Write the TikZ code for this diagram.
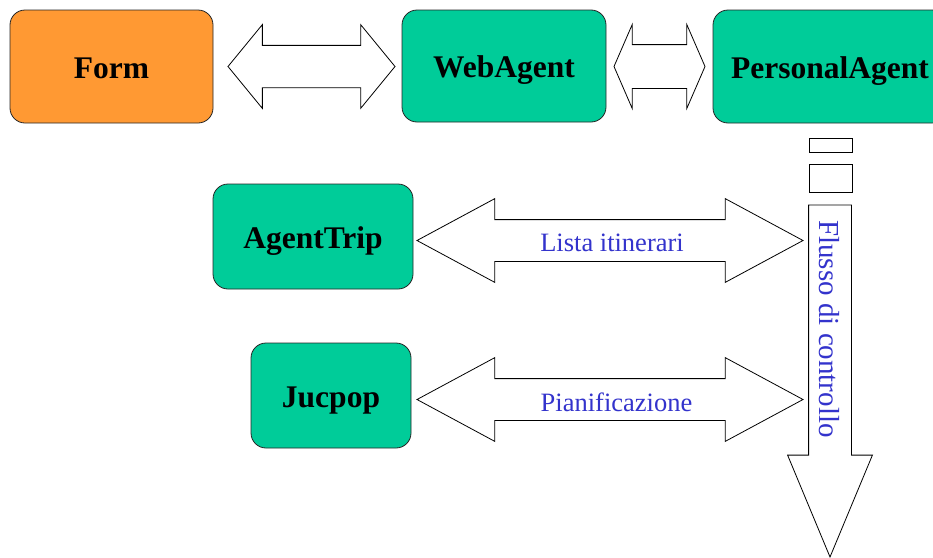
\documentclass[tikz,border=0pt]{standalone}
\usepackage{fontspec}
\setmainfont{Liberation Serif}
\usetikzlibrary{shapes.arrows}
\definecolor{formorange}{RGB}{255,153,51}
\definecolor{agentgreen}{RGB}{0,204,153}
\definecolor{flowblue}{RGB}{51,51,204}
\tikzset{
  agent/.style={draw=black!85, line width=0.8pt, rounded corners=15pt, fill=agentgreen,
    inner sep=0pt, text height=23pt, text depth=0pt,
    font=\fontsize{31.5}{36}\selectfont\bfseries},
  biarrow/.style={draw, line width=0.8pt, fill=white, shape=double arrow,
    inner xsep=0pt, outer sep=0pt, double arrow head extend=20.75pt},
  flowtext/.style={text=flowblue, inner sep=0pt, font=\fontsize{26.5}{30}\selectfont}
}

\begin{document}
\begin{tikzpicture}[x=1pt,y=-1pt]
\useasboundingbox (0,0) rectangle (933,557);

% top row
\node[agent, fill=formorange, minimum width=203pt, minimum height=113pt] (form) at (111.5,66.5) {Form};
\node[agent, minimum width=204pt, minimum height=112pt] (web) at (504,66) {WebAgent};
\node[agent, minimum width=234pt, minimum height=113pt] (personal) at (830,66.5) {PersonalAgent};

% lower agents
\node[agent, minimum width=200pt, minimum height=105pt, text height=24.5pt] (trip) at (313,236.5) {AgentTrip};
\node[agent, minimum width=160pt, minimum height=105pt, text height=24.5pt] (jucpop) at (331,395.5) {Jucpop};

% block arrows
\node[biarrow, minimum height=167pt, inner ysep=20.75pt, double arrow tip angle=101.3] (formweb) at (311.5,66.5) {};
\node[biarrow, minimum height=91pt, inner ysep=21.5pt, double arrow head extend=20pt, double arrow tip angle=133.1] (webpers) at (659.5,66.5) {};
\node[biarrow, minimum height=386pt, inner ysep=20.5pt, double arrow head extend=21pt, double arrow tip angle=56.6] (lista) at (610,240.5) {};
\node[biarrow, minimum height=386pt, inner ysep=20.5pt, double arrow head extend=21pt, double arrow tip angle=56.6] (piano) at (610,399.5) {};
\node[flowtext] at (612,243) {Lista itinerari};
\node[flowtext] at (616.5,402) {Pianificazione};

% control flow
\draw[line width=0.8pt] (809,138) rectangle (852,152);
\draw[line width=0.8pt] (809,164) rectangle (852,192);
\node[draw, line width=0.8pt, fill=white, shape=single arrow, rotate=-90, anchor=tail,
  minimum height=352pt, inner xsep=0pt, inner ysep=21pt, outer sep=0pt,
  single arrow head extend=21pt, single arrow tip angle=45.2] (flusso) at (830,205) {};
\node[flowtext, font=\fontsize{29}{33}\selectfont, rotate=-90] at (829,329) {Flusso di controllo};
\end{tikzpicture}
\end{document}
